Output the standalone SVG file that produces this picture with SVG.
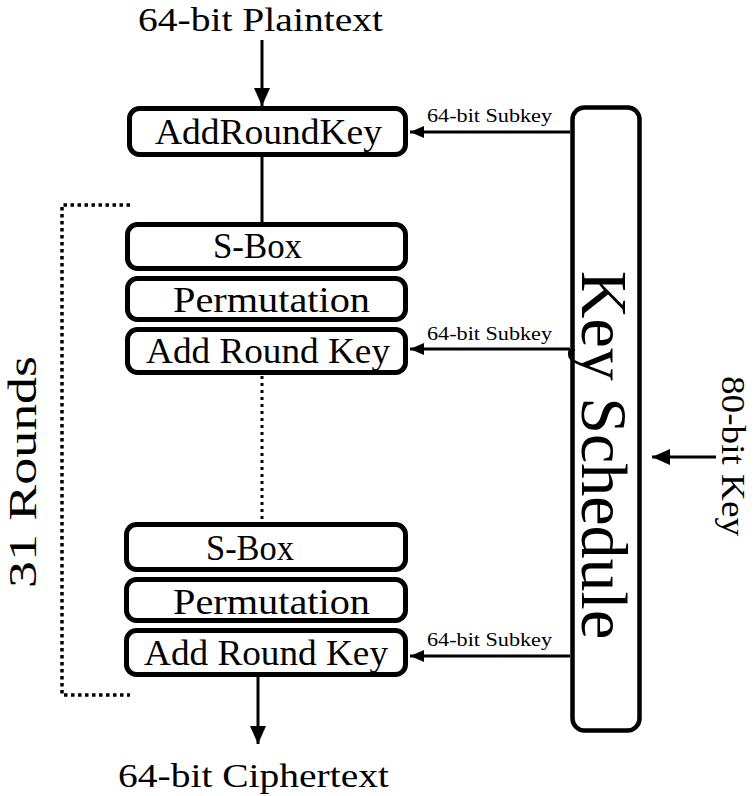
<svg xmlns="http://www.w3.org/2000/svg" width="755" height="796" viewBox="0 0 755 796">
  <style>
    .box { fill: #fff; stroke: #000; stroke-width: 5; }
    .ks { fill: #fff; stroke: #000; stroke-width: 4.5; }
    .lbl { font-family: "Liberation Serif", "Times New Roman", serif; font-size: 35px; fill: #000; }
    .io { font-family: "Liberation Serif", "Times New Roman", serif; font-size: 33px; fill: #000; }
    .sub { font-family: "Liberation Serif", "Times New Roman", serif; font-size: 18px; fill: #000; }
    .big { font-family: "Liberation Serif", "Times New Roman", serif; font-size: 66px; fill: #000; }
    .key { font-family: "Liberation Serif", "Times New Roman", serif; font-size: 34px; fill: #000; }
    .rounds { font-family: "Liberation Serif", "Times New Roman", serif; font-size: 40px; fill: #000; }
    .wire { fill: none; stroke: #000; stroke-width: 3; }
    .dots { fill: none; stroke: #000; stroke-width: 3.5; stroke-dasharray: 3.5 3.5; }
  </style>
  <defs>
    <marker id="head" markerUnits="userSpaceOnUse" markerWidth="18" markerHeight="18" viewBox="0 0 18 18" refX="18" refY="9" orient="auto">
      <path d="M0,1 L18,9 L0,17 Z" fill="#000"/>
    </marker>
    <marker id="headSmall" markerUnits="userSpaceOnUse" markerWidth="14" markerHeight="14" viewBox="0 0 14 14" refX="14" refY="7" orient="auto">
      <path d="M0,1 L14,7 L0,13 Z" fill="#000"/>
    </marker>
  </defs>

  <rect width="755" height="796" fill="#fff"/>

  <!-- connectors -->
  <g id="connectors">
    <line class="wire" x1="262" y1="40" x2="262" y2="106" marker-end="url(#head)"/>
    <line class="wire" x1="262" y1="157" x2="262" y2="222"/>
    <line class="dots" x1="262" y1="376" x2="262" y2="522" style="stroke-width:3;stroke-dasharray:3 4"/>
    <line class="wire" x1="258" y1="677" x2="258" y2="744" marker-end="url(#head)"/>
    <line class="wire" x1="570" y1="132" x2="410" y2="132" marker-end="url(#headSmall)"/>
    <line class="wire" x1="570" y1="349" x2="410" y2="349" marker-end="url(#headSmall)"/>
    <line class="wire" x1="570" y1="656" x2="410" y2="656" marker-end="url(#headSmall)"/>
    <line class="wire" x1="716" y1="457" x2="652" y2="457" marker-end="url(#head)"/>
    <text class="sub" x="427" y="122" textLength="125" lengthAdjust="spacingAndGlyphs">64-bit Subkey</text>
    <text class="sub" x="427" y="340" textLength="125" lengthAdjust="spacingAndGlyphs">64-bit Subkey</text>
    <text class="sub" x="427" y="646" textLength="125" lengthAdjust="spacingAndGlyphs">64-bit Subkey</text>
  </g>

  <!-- round bracket -->
  <g id="rounds">
    <polyline class="dots" points="130,205 62,205 62,695 130,695"/>
    <text class="rounds" transform="translate(36,472) rotate(-90)" text-anchor="middle" textLength="232" lengthAdjust="spacingAndGlyphs">31 Rounds</text>
  </g>

  <g id="plaintext">
    <text class="io" x="138" y="31" textLength="245" lengthAdjust="spacingAndGlyphs">64-bit Plaintext</text>
  </g>

  <g id="add-round-key-0">
    <rect class="box" x="129.5" y="108.5" width="276" height="46" rx="10"/>
    <text class="lbl" x="155" y="144" textLength="227" lengthAdjust="spacingAndGlyphs">AddRoundKey</text>
  </g>

  <g id="sbox-1">
    <rect class="box" x="127.5" y="224.5" width="278" height="44" rx="10"/>
    <text class="lbl" x="213" y="258" textLength="89" lengthAdjust="spacingAndGlyphs">S-Box</text>
  </g>
  <g id="permutation-1">
    <rect class="box" x="127.5" y="278.5" width="278" height="41" rx="10"/>
    <text class="lbl" x="173" y="312" textLength="197" lengthAdjust="spacingAndGlyphs">Permutation</text>
  </g>
  <g id="add-round-key-1">
    <rect class="box" x="127.5" y="329.5" width="278" height="43" rx="10"/>
    <text class="lbl" x="146" y="363" textLength="244" lengthAdjust="spacingAndGlyphs">Add Round Key</text>
  </g>

  <g id="sbox-31">
    <rect class="box" x="126.5" y="524.5" width="279" height="45" rx="10"/>
    <text class="lbl" x="206" y="560" textLength="88" lengthAdjust="spacingAndGlyphs">S-Box</text>
  </g>
  <g id="permutation-31">
    <rect class="box" x="126.5" y="579.5" width="279" height="41" rx="10"/>
    <text class="lbl" x="173" y="614" textLength="197" lengthAdjust="spacingAndGlyphs">Permutation</text>
  </g>
  <g id="add-round-key-31">
    <rect class="box" x="126.5" y="630.5" width="279" height="44" rx="10"/>
    <text class="lbl" x="144" y="665" textLength="244" lengthAdjust="spacingAndGlyphs">Add Round Key</text>
  </g>

  <g id="ciphertext">
    <text class="io" x="118" y="787" textLength="271" lengthAdjust="spacingAndGlyphs">64-bit Ciphertext</text>
  </g>

  <g id="key-schedule">
    <rect class="ks" x="572.5" y="107.5" width="67" height="623" rx="12"/>
    <text class="big" transform="translate(582,455) rotate(90)" text-anchor="middle">Key Schedule</text>
  </g>

  <g id="master-key">
    <text class="key" transform="translate(722,456) rotate(90)" text-anchor="middle" textLength="160" lengthAdjust="spacingAndGlyphs">80-bit Key</text>
  </g>
</svg>
